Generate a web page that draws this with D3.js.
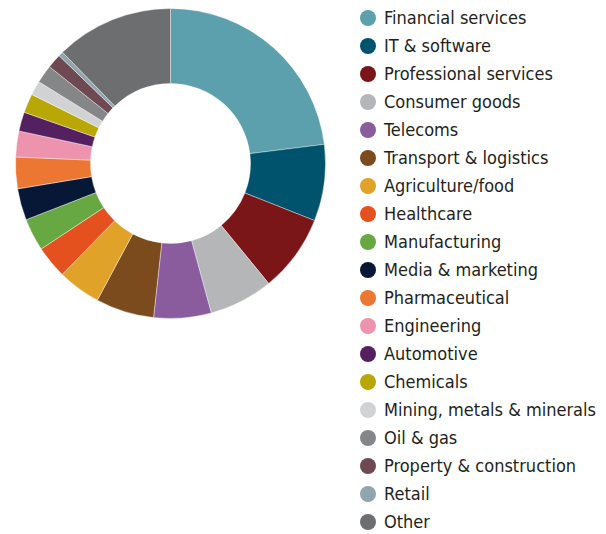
<!DOCTYPE html>
<html>
<head>
<meta charset="utf-8">
<script src="https://cdn.jsdelivr.net/npm/d3@7"></script>
<style>
  html, body { margin: 0; padding: 0; background: #fff; }
  svg { display: block; }
  .legend text { font-family: "DejaVu Sans", sans-serif; font-stretch: condensed; fill: #231f20; }
</style>
</head>
<body>
<svg id="chart" width="606" height="534"></svg>
<script>
// Sectors (share of respondents, %)
const sectors = [
  "Financial services", "IT & software", "Professional services", "Consumer goods",
  "Telecoms", "Transport & logistics", "Agriculture/food", "Healthcare",
  "Manufacturing", "Media & marketing", "Pharmaceutical", "Engineering",
  "Automotive", "Chemicals", "Mining, metals & minerals", "Oil & gas",
  "Property & construction", "Retail", "Other"
];
const shares = [
  23.1, 8.0, 8.1, 6.7,
  6.0, 6.1, 4.5, 3.4,
  3.4, 3.3, 3.3, 2.7,
  2.0, 2.0, 1.5, 1.9,
  1.5, 0.5, 12.3
];
const colours = [
  "#5ba0ac", "#00536c", "#7a1518", "#b5b6b8",
  "#8a5c9e", "#7b4b1e", "#e0a229", "#e4501e",
  "#68a843", "#061835", "#ec7733", "#ee93ae",
  "#55205f", "#b9a706", "#d1d2d4", "#858688",
  "#6e4951", "#8fa6ae", "#6d6e70"
];

const data = sectors.map((name, i) => ({ name, value: shares[i] }));
const colour = d3.scaleOrdinal().domain(sectors).range(colours);

const svg = d3.select("#chart");

// Donut
const cx = 170.5, cy = 163.5, outerR = 155, innerR = 80;
const pie = d3.pie().value(d => d.value).sort(null);
const arc = d3.arc().innerRadius(innerR).outerRadius(outerR);

svg.append("g")
  .attr("transform", `translate(${cx},${cy})`)
  .selectAll("path")
  .data(pie(data))
  .join("path")
  .attr("d", arc)
  .attr("fill", d => colour(d.data.name))
  .attr("stroke", "#fff")
  .attr("stroke-width", 0.4);

// Legend
const legendY = d3.scalePoint().domain(sectors).range([18, 522]);
const legend = svg.append("g").attr("class", "legend");
const rows = legend.selectAll("g")
  .data(data)
  .join("g")
  .attr("transform", d => `translate(368,${legendY(d.name)})`);
rows.append("circle")
  .attr("r", 8)
  .attr("fill", d => colour(d.name));
const labels = rows.append("text")
  .attr("x", 16)
  .attr("dy", "0.36em")
  .style("font-size", "20px")
  .text(d => d.name);

// Size the labels so the longest one fits the space right of the donut
const longest = d3.max(labels.nodes(), n => n.getComputedTextLength());
const size = Math.min(20, 20 * 212 / longest);
labels.style("font-size", size + "px");
</script>
</body>
</html>
